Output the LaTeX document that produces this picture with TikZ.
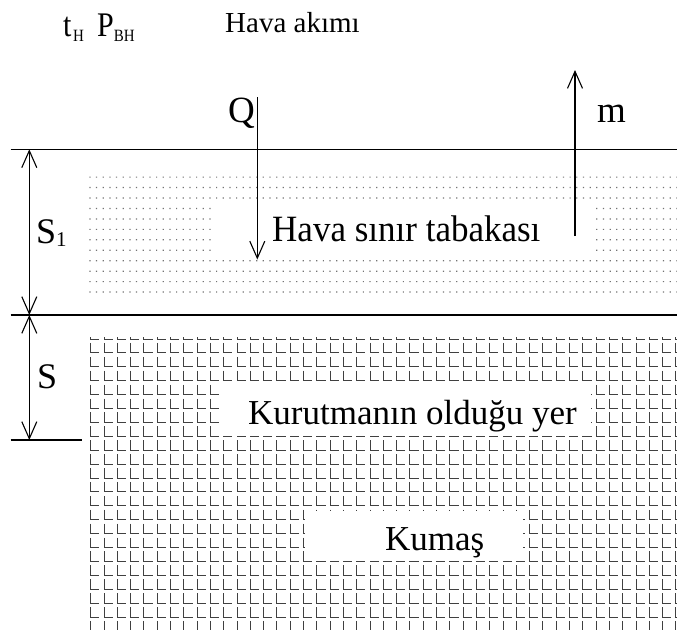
\documentclass[tikz,border=0pt]{standalone}
\usepackage{fontspec}
\setmainfont{Liberation Serif}
\usetikzlibrary{arrows.meta}
\begin{document}
\begin{tikzpicture}[x=1pt,y=-1pt,
  mainline/.style={line width=1.3pt},
  barb/.tip={Straight Barb[length=17pt,width=15pt]},
  dimarrow/.style={line width=1.1pt,{barb}-{barb}},
  flowarrow/.style={line width=1.1pt,-{barb}},
  lab/.style={anchor=base west,inner sep=0pt},
  dotfill/.style={fill=black!55},
  grid L/.style={draw=black!75,line width=0.9pt},
  blank/.style={fill=white}
]
\useasboundingbox (0,0) rectangle (677,632);

% dotted air boundary layer
\begin{scope}
\clip (86,170) rectangle (677,300);
\fill[dotfill] foreach \r in {0,...,11} { foreach \i in {0,...,88} {
  ({89.3+6.67*\i},{176.5+10.45*\r}) rectangle ++(1.2,1.2) } };
\end{scope}
\fill[blank] (211,203) rectangle (595,255.5);

% L-grid fabric
\begin{scope}
\clip (86,337.5) rectangle (677,629.8);
\draw[grid L] foreach \k in {0,...,21} { foreach \j in {-1,...,44} {
  ({90.7+13.3*\j},{339+13.9*\k-10}) -- ++(0,10) -- ++(8.7,0) } };
\end{scope}
\fill[blank] (220,382) rectangle (590.5,435.6);
\fill[blank] (304.5,511) rectangle (523,561);

% main lines
\coordinate (L1a) at (10.7,149.3); \coordinate (L1b) at (677,149.3);
\coordinate (L2a) at (10.7,315);   \coordinate (L2b) at (677,315);
\coordinate (L3a) at (10.7,440);   \coordinate (L3b) at (82,440);
\draw[mainline] (L1a) -- (L1b);
\draw[mainline] (L2a) -- (L2b);
\draw[mainline] (L3a) -- (L3b);

% dimension arrows
\coordinate (d1) at (29.3,149.3);
\coordinate (d2) at (29.3,315);
\coordinate (d3) at (29.3,440);
\draw[dimarrow] (d2) -- (d1);
\draw[dimarrow] (d2) -- (d3);

% flow arrows
\coordinate (qa) at (257.3,97);  \coordinate (qb) at (257.3,259.5);
\coordinate (ma) at (575,236);   \coordinate (mb) at (575,70);
\draw[flowarrow] (qa) -- (qb);
\draw[flowarrow] (ma) -- (mb);

% labels
\node[lab,font=\fontsize{30}{34}\selectfont] (tH) at (63,36) {\scalebox{1}[1.15]{t\kern1.5pt\raisebox{-5pt}{\fontsize{15}{17}\selectfont H}}};
\node[lab,font=\fontsize{30}{34}\selectfont] (PBH) at (97,36) {\scalebox{1}[1.15]{P\raisebox{-5pt}{\fontsize{15}{17}\selectfont BH}}};
\node[lab,font=\fontsize{29}{34}\selectfont] (hava) at (225,32) {Hava akımı};
\node[lab,font=\fontsize{37}{42}\selectfont] (Q) at (228,122) {Q};
\node[lab,font=\fontsize{37}{42}\selectfont] (m) at (597,122) {m};
\node[lab,font=\fontsize{36}{42}\selectfont] (S1) at (36,243) {S\raisebox{-3.5pt}{\fontsize{21}{24}\selectfont 1}};
\node[lab,font=\fontsize{36}{42}\selectfont] (S) at (37,388) {S};
\node[lab,font=\fontsize{35}{40}\selectfont] (tabaka) at (272,241) {\scalebox{1}[1.06]{Hava sınır tabakası}};
\node[lab,font=\fontsize{35}{40}\selectfont] (kurut) at (248,424) {Kurutmanın olduğu yer};
\node[lab,font=\fontsize{35}{40}\selectfont] (kumas) at (385,550) {Kumaş};
\end{tikzpicture}
\end{document}
